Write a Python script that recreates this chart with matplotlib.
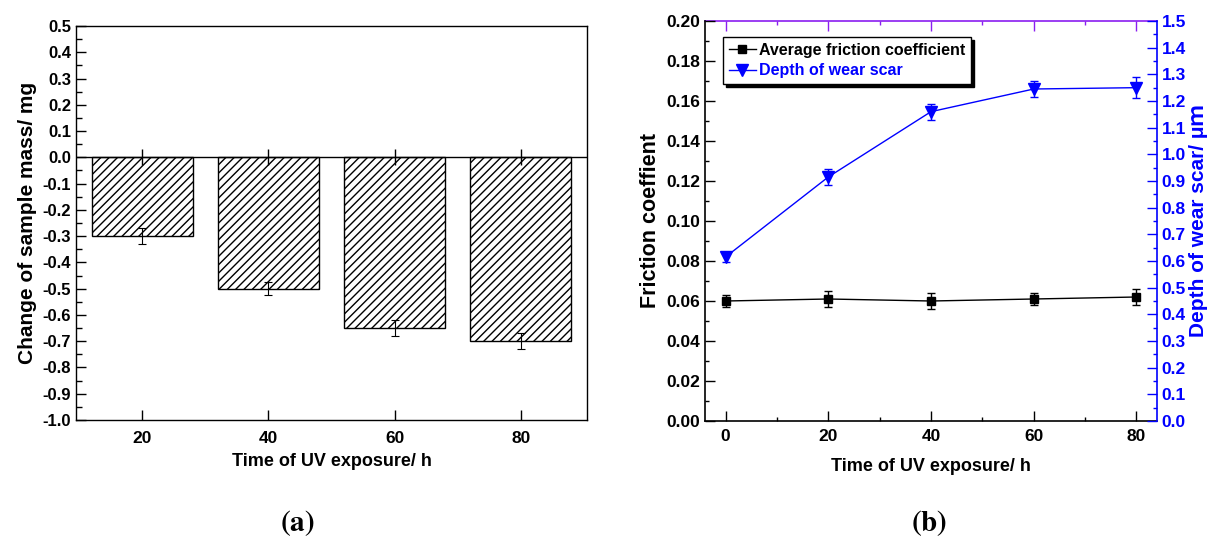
import numpy as np
import matplotlib.pyplot as plt
from matplotlib.ticker import MultipleLocator
from matplotlib.lines import Line2D

# (a) mass change
t_a = [20, 40, 60, 80]
mass = [-0.30, -0.50, -0.65, -0.70]
mass_err = [0.03, 0.025, 0.03, 0.03]
base_err = [0.03, 0.03, 0.03, 0.03]

# (b) friction + wear depth
t_b = [0, 20, 40, 60, 80]
fric = [0.060, 0.061, 0.060, 0.061, 0.062]
fric_err = [0.003, 0.004, 0.004, 0.003, 0.004]
depth = [0.615, 0.915, 1.16, 1.245, 1.25]
depth_err = [0.02, 0.03, 0.03, 0.03, 0.04]

plt.rcParams['font.family'] = ['Liberation Sans', 'DejaVu Sans']
plt.rcParams['font.weight'] = 'bold'
plt.rcParams['mathtext.fontset'] = 'stix'
blue = '#0000ff'
violet = '#8a1ef0'

fig = plt.figure(figsize=(12.15, 5.38), dpi=100)

# ---------------- (a) ----------------
ax = fig.add_axes([76 / 1215, 1 - 420 / 538, 511 / 1215, 394 / 538])
ax.bar(t_a, mass, width=16, color='white', edgecolor='black', hatch='////', linewidth=1)
ax.axhline(0, color='black', lw=1)
ax.errorbar(t_a, mass, yerr=mass_err, fmt='none', ecolor='black', elinewidth=0.8, capsize=3, capthick=0.8)
ax.errorbar(t_a, [0, 0, 0, 0], yerr=base_err, fmt='none', ecolor='black', elinewidth=1, capsize=0)
ax.set_xlim(9.5, 90.5)
ax.set_ylim(-1.0, 0.5)
ax.set_xticks(t_a)
ax.yaxis.set_major_locator(MultipleLocator(0.1))
ax.yaxis.set_minor_locator(MultipleLocator(0.05))
ax.set_yticklabels([f'{v:.1f}' for v in ax.get_yticks()])
ax.tick_params(axis='y', which='major', direction='in', length=7, width=1, labelsize=12)
ax.tick_params(axis='x', which='major', direction='in', length=7, width=1, labelsize=12.5, pad=8)
ax.tick_params(axis='y', which='minor', direction='in', length=4, width=1)
for s in ax.spines.values():
    s.set_linewidth(1)
ax.set_xlabel('Time of UV exposure/ h', fontsize=13, fontweight='bold', labelpad=5)
ax.set_ylabel('Change of sample mass/ mg', fontsize=15, fontweight='bold', labelpad=4)

# ---------------- (b) ----------------
ax1 = fig.add_axes([705 / 1215, 1 - 421 / 538, 452 / 1215, 400 / 538])
ax2 = ax1.twinx()
ax1.errorbar(t_b, fric, yerr=fric_err, color='black', marker='s', ms=6, lw=1,
             elinewidth=1, capsize=3)
ax2.errorbar(t_b, depth, yerr=depth_err, color=blue, marker='v', ms=8, lw=1,
             elinewidth=1, capsize=3)
ax1.set_xlim(-4, 84)
ax1.set_ylim(0, 0.2)
ax2.set_ylim(0, 1.5)
ax1.set_xticks(t_b)
ax1.xaxis.set_minor_locator(MultipleLocator(10))
ax1.yaxis.set_major_locator(MultipleLocator(0.02))
ax1.yaxis.set_minor_locator(MultipleLocator(0.01))
ax2.yaxis.set_major_locator(MultipleLocator(0.1))
ax2.yaxis.set_minor_locator(MultipleLocator(0.05))
ax1.set_yticklabels([f'{v:.2f}' for v in ax1.get_yticks()])
ax2.set_yticklabels([f'{v:.1f}' for v in ax2.get_yticks()])

ax1.tick_params(axis='both', which='major', direction='in', length=7, width=1, labelsize=12.5)
ax1.tick_params(axis='both', which='minor', direction='in', length=3, width=1)
ax1.tick_params(axis='x', pad=6)
ax2.tick_params(axis='y', which='major', direction='in', length=7, width=1, colors=blue, labelsize=12.5)
ax2.tick_params(axis='y', which='minor', direction='in', length=3, width=1, colors=blue)

ax1.spines['right'].set_visible(False)
ax1.spines['top'].set_visible(False)
for k in ['left', 'bottom', 'top']:
    ax2.spines[k].set_visible(False)
ax2.spines['right'].set_color(blue)
ax2.spines['right'].set_linewidth(1.2)
ax1.spines['left'].set_linewidth(1.2)
ax1.spines['bottom'].set_linewidth(1.2)

top = ax1.secondary_xaxis('top')
top.set_xticks(t_b)
top.xaxis.set_minor_locator(MultipleLocator(10))
top.tick_params(axis='x', which='major', direction='in', length=7, width=1, colors=violet, labeltop=False)
top.tick_params(axis='x', which='minor', direction='in', length=3, width=1, colors=violet)
top.spines['top'].set_color(violet)
top.spines['top'].set_linewidth(1.2)

ax1.set_xlabel('Time of UV exposure/ h', fontsize=13, fontweight='bold', labelpad=10)
ax1.set_ylabel('Friction coeffient', fontsize=15.5, fontweight='bold', labelpad=4)
ax2.set_ylabel('Depth of wear scar/ μｍ', fontsize=15, fontweight='bold', color=blue,
               family=['Liberation Sans', 'Noto Sans CJK SC'], labelpad=2)

h1 = Line2D([], [], color='black', marker='s', ms=6, lw=1)
h2 = Line2D([], [], color=blue, marker='v', ms=8, lw=1)
leg = ax2.legend([h1, h2], ['Average friction coefficient', 'Depth of wear scar'],
                 loc='upper left', bbox_to_anchor=(0.04, 0.96), borderaxespad=0,
                 prop={'weight': 'bold', 'size': 11.5},
                 handlelength=1.7, handletextpad=0.2, borderpad=0.35, labelspacing=0.35,
                 fancybox=False, edgecolor='black', framealpha=1,
                 shadow={'color': 'black', 'alpha': 1})
leg.get_frame().set_linewidth(1)
leg.get_texts()[1].set_color(blue)

fig.text(297 / 1215, 1 - 523 / 538, r'$(\mathbf{a})$', ha='center', va='center', fontsize=21)
fig.text(929 / 1215, 1 - 523 / 538, r'$(\mathbf{b})$', ha='center', va='center', fontsize=21)

fig.savefig('out.png', dpi=100)
